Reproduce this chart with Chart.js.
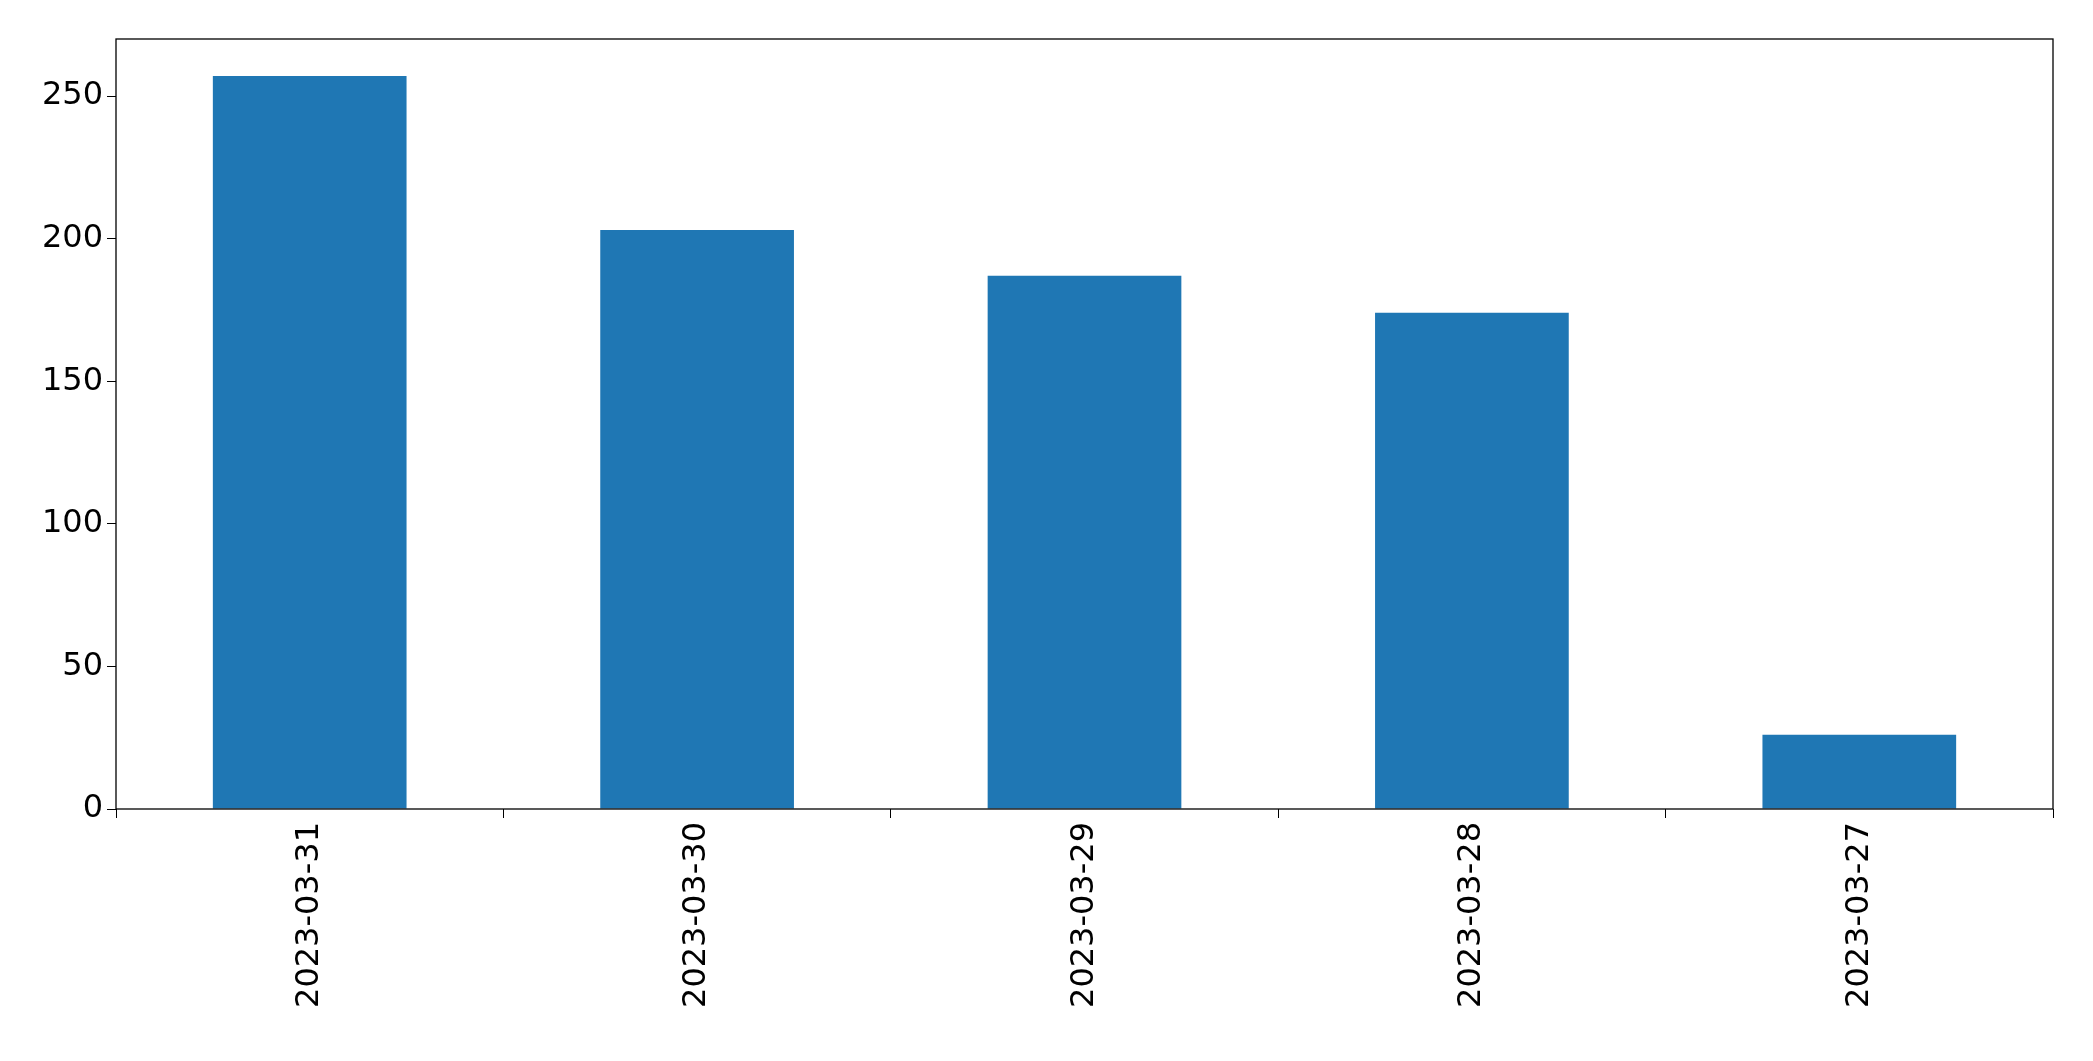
<!DOCTYPE html>
<html><head><meta charset="utf-8">
<script src="https://cdn.jsdelivr.net/npm/chart.js@4"></script>
<style>html,body{margin:0;padding:0;background:#fff}#wrap{width:2093px;height:1061px}</style>
</head><body><div id="wrap"><canvas id="c"></canvas></div>
<script>
const categories = ["2023-03-31","2023-03-30","2023-03-29","2023-03-28","2023-03-27"];
const values = [257, 203, 187, 174, 26];
const yTicks = [0, 50, 100, 150, 200, 250];

const frame = {id:'frame', afterDatasetsDraw(ch){const a=ch.chartArea,c=ch.ctx;c.save();c.strokeStyle='#000';c.lineWidth=1.3;c.strokeRect(a.left,a.top,a.right-a.left,a.bottom-a.top);c.restore();}};
new Chart(document.getElementById('c'), {
  type:'bar',
  data:{labels:categories, datasets:[{data:values, backgroundColor:'#1f77b4', barPercentage:0.5, categoryPercentage:1}]},
  options:{
    responsive:true, maintainAspectRatio:false, animation:false,
    layout:{padding:{top:39,right:40,left:0,bottom:0}},
    plugins:{legend:{display:false},tooltip:{enabled:false}},
    scales:{
      x:{offset:true, grid:{display:true,drawOnChartArea:false,drawTicks:true,tickLength:9,color:'#000'}, border:{display:false},
         ticks:{color:'#000',font:{family:'DejaVu Sans',size:32},maxRotation:90,minRotation:90,padding:4},
         afterFit(s){s.height=252;}},
      y:{min:0,max:270, afterBuildTicks(s){s.ticks=yTicks.map(v=>({value:v}));},
         grid:{display:true,drawOnChartArea:false,drawTicks:true,tickLength:9,color:'#000'}, border:{display:false},
         ticks:{color:'#000',font:{family:'DejaVu Sans',size:32},padding:4},
         afterFit(s){s.width=116;}}
    }
  },
  plugins:[frame]
});
</script></body></html>
